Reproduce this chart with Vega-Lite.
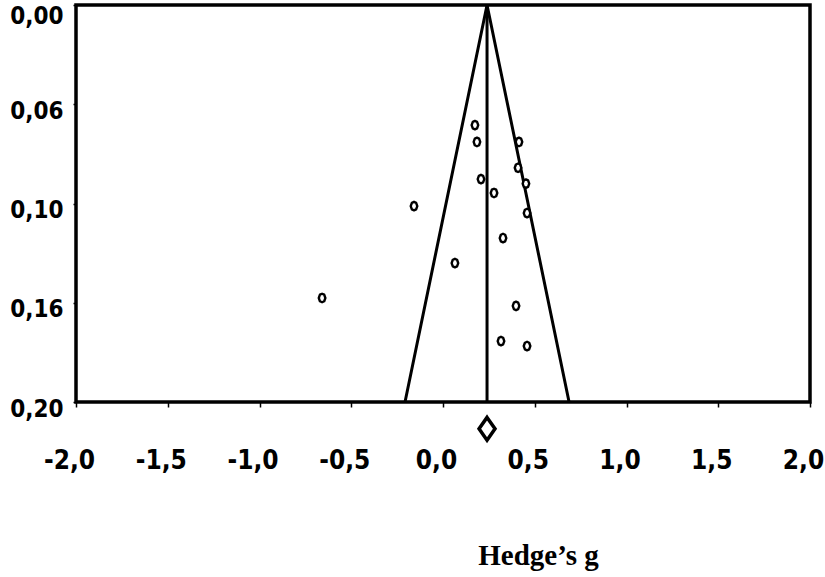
{
  "$schema": "https://vega.github.io/schema/vega-lite/v6.json",
  "width": 734,
  "height": 397,
  "autosize": {"type": "none"},
  "padding": {"left": 76, "top": 5, "right": 15, "bottom": 175},
  "background": "white",
  "config": {
    "view": {"stroke": "black", "strokeWidth": 3.5},
    "axis": {"grid": false, "domain": false, "tickColor": "black", "labelColor": "black", "titleColor": "black"}
  },
  "datasets": {
    "studies": [
      {"g": 0.174, "se": 0.0605},
      {"g": 0.185, "se": 0.069},
      {"g": 0.414, "se": 0.069},
      {"g": 0.409, "se": 0.082},
      {"g": 0.207, "se": 0.0877},
      {"g": 0.452, "se": 0.090},
      {"g": 0.278, "se": 0.0947},
      {"g": -0.158, "se": 0.1013},
      {"g": 0.458, "se": 0.1048},
      {"g": 0.327, "se": 0.1174},
      {"g": 0.065, "se": 0.130},
      {"g": -0.659, "se": 0.1476},
      {"g": 0.398, "se": 0.1516},
      {"g": 0.316, "se": 0.1693},
      {"g": 0.458, "se": 0.1718}
    ],
    "funnel": [
      {"g": -0.207, "se": 0.2, "o": 1},
      {"g": 0.24, "se": 0.0, "o": 2},
      {"g": 0.687, "se": 0.2, "o": 3}
    ],
    "pooled": [
      {"g": 0.24, "se0": 0.0, "se1": 0.2, "seDiamond": 0.2135}
    ]
  },
  "layer": [
    {
      "data": {"name": "funnel"},
      "mark": {"type": "line", "color": "black", "strokeWidth": 3},
      "encoding": {
        "x": {
          "field": "g", "type": "quantitative",
          "scale": {"domain": [-2, 2], "nice": false, "zero": false},
          "axis": {
            "values": [-2, -1.5, -1, -0.5, 0, 0.5, 1, 1.5, 2],
            "labelExpr": "(datum.value < 0 ? '-' : '') + replace(format(abs(datum.value), '.1f'), '.', ',')",
            "labelFont": "DejaVu Sans Condensed",
            "labelFontWeight": "bold",
            "labelFontSize": 26,
            "labelFlush": false,
            "labelBaseline": "top",
            "labelOffset": -7,
            "tickSize": 5,
            "tickWidth": 1.5,
            "labelPadding": 40,
            "title": "Hedge’s g",
            "titleFont": "Liberation Serif",
            "titleFontWeight": "bold",
            "titleFontSize": 29,
            "titleX": 462,
            "titleY": 162,
            "titleAnchor": "middle",
            "titleAlign": "center",
            "titleBaseline": "alphabetic"
          }
        },
        "y": {
          "field": "se", "type": "quantitative",
          "scale": {"domain": [0, 0.2], "nice": false, "reverse": true, "zero": false},
          "axis": {
            "values": [0, 0.05, 0.1, 0.15, 0.2],
            "labelExpr": "datum.value < 0.01 ? '0,00' : datum.value < 0.07 ? '0,06' : datum.value < 0.12 ? '0,10' : datum.value < 0.17 ? '0,16' : '0,20'",
            "labelFont": "DejaVu Sans Condensed",
            "labelFontWeight": "bold",
            "labelFontSize": 24,
            "labelOffset": {"condition": {"test": "datum.value < 0.01", "value": 11}, "value": 7},
            "tickSize": 3,
            "tickWidth": 1.5,
            "labelPadding": 10,
            "title": null
          }
        },
        "order": {"field": "o", "type": "quantitative"}
      }
    },
    {
      "data": {"name": "pooled"},
      "mark": {"type": "rule", "color": "black", "strokeWidth": 3},
      "encoding": {
        "x": {"field": "g", "type": "quantitative"},
        "y": {"field": "se0", "type": "quantitative"},
        "y2": {"field": "se1"}
      }
    },
    {
      "data": {"name": "studies"},
      "mark": {"type": "point", "shape": "M0,-1.1L0.55,-0.85L0.85,0L0.55,0.85L0,1.1L-0.55,0.85L-0.85,0L-0.55,-0.85Z", "size": 60, "filled": false, "fill": "white", "fillOpacity": 1, "stroke": "black", "strokeWidth": 2.4, "strokeJoin": "round", "opacity": 1},
      "encoding": {
        "x": {"field": "g", "type": "quantitative"},
        "y": {"field": "se", "type": "quantitative"}
      }
    },
    {
      "data": {"name": "pooled"},
      "mark": {"type": "point", "shape": "M0,-1L0.7,0L0,1L-0.7,0Z", "size": 520, "filled": false, "fill": "white", "fillOpacity": 1, "stroke": "black", "strokeWidth": 3.5, "opacity": 1, "clip": false},
      "encoding": {
        "x": {"field": "g", "type": "quantitative"},
        "y": {"field": "seDiamond", "type": "quantitative"}
      }
    }
  ]
}
